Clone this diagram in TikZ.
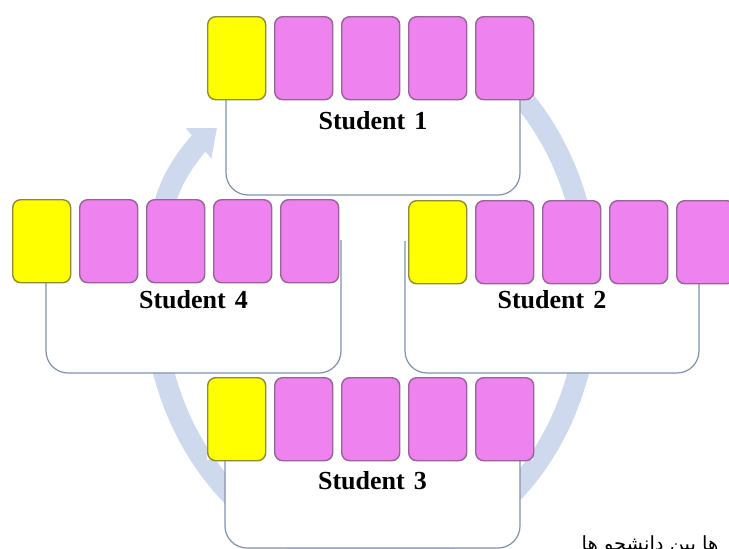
\documentclass[tikz,border=0pt]{standalone}
\usepackage{fontspec}
\setmainfont{Liberation Serif}
\newfontfamily\arabicfont[Script=Arabic]{DejaVu Sans}
\TeXXeTstate=1
\usetikzlibrary{arrows.meta}
\definecolor{ringcol}{RGB}{206,217,238}
\definecolor{ycard}{RGB}{255,255,0}
\definecolor{yedge}{RGB}{140,140,50}
\definecolor{mcard}{RGB}{238,130,238}
\definecolor{medge}{RGB}{150,100,150}
\definecolor{boxedge}{RGB}{128,146,170}
\tikzset{
  card/.style={rounded corners=8pt, minimum width=58pt, minimum height=83pt, anchor=north west, inner sep=0pt, line width=1.4pt},
  ycardst/.style={card, fill=ycard, draw=yedge},
  mcardst/.style={card, fill=mcard, draw=medge},
  ubox/.style={draw=boxedge, line width=1.2pt, rounded corners=22pt},
  lab/.style={anchor=base, font=\fontsize{26}{30}\selectfont\bfseries, inner sep=0pt},
  ringst/.style={draw=ringcol, line width=21pt},
}
% #1 name, #2 card x, #3 card y, #4 box left, #5 box right, #6 box bottom, #7 label baseline, #8 text
\newcommand\studentrow[8]{%
  \fill[white] ({#2},{-#3}) rectangle ({#2+4*67+58},{-#3-83});
  \fill[white, rounded corners=22pt] ({#4},{-#3-41}) rectangle ({#5},{-#6});
  \draw[ubox] ({#4},{-#3-41}) -- ({#4},{-#6}) -- ({#5},{-#6}) -- ({#5},{-#3-41});
  \node[ycardst] (#1c1) at ({#2},{-#3}) {};
  \foreach \i in {2,...,5} \node[mcardst] (#1c\i) at ({#2+67*(\i-1)},{-#3}) {};
  \node[lab] (#1lab) at ({(#4+#5)/2},{-#7}) {#8};
}
\begin{document}
\begin{tikzpicture}[x=1pt,y=1pt]
\useasboundingbox (0,0) rectangle (729,-549);
\clip (0,0) rectangle (729,-549);
\fill[white] (0,0) rectangle (729,-549);
% cycle arrow
\coordinate (rs) at (427.42,-32.1);
\coordinate (rt) at (217,-128);
\draw[ringst, -{Triangle[length=24pt,width=38pt]}] (rs)
  arc[start angle=75, end angle=-200, x radius=218, y radius=267]
  .. controls (174.7,-170.0) and (197.8,-144.1) .. (rt);
% students
\studentrow{sa}{207}{16}{226}{520}{195}{129}{Student\hspace{0.35em}1}
\studentrow{sd}{12}{199}{46}{341}{373}{308}{Student\hspace{0.35em}4}
\studentrow{sb}{408}{200}{405}{699}{373}{308}{Student\hspace{0.35em}2}
\studentrow{sc}{207}{377}{225}{520}{548}{489}{Student\hspace{0.35em}3}
% caption fragment (cut at the lower edge, as in the reference)
\node[anchor=base, inner sep=0pt] (cap) at (650,-550) {\arabicfont\fontsize{19.5}{22}\selectfont\beginR ها بین دانشجو ها\endR};
\end{tikzpicture}
\end{document}
